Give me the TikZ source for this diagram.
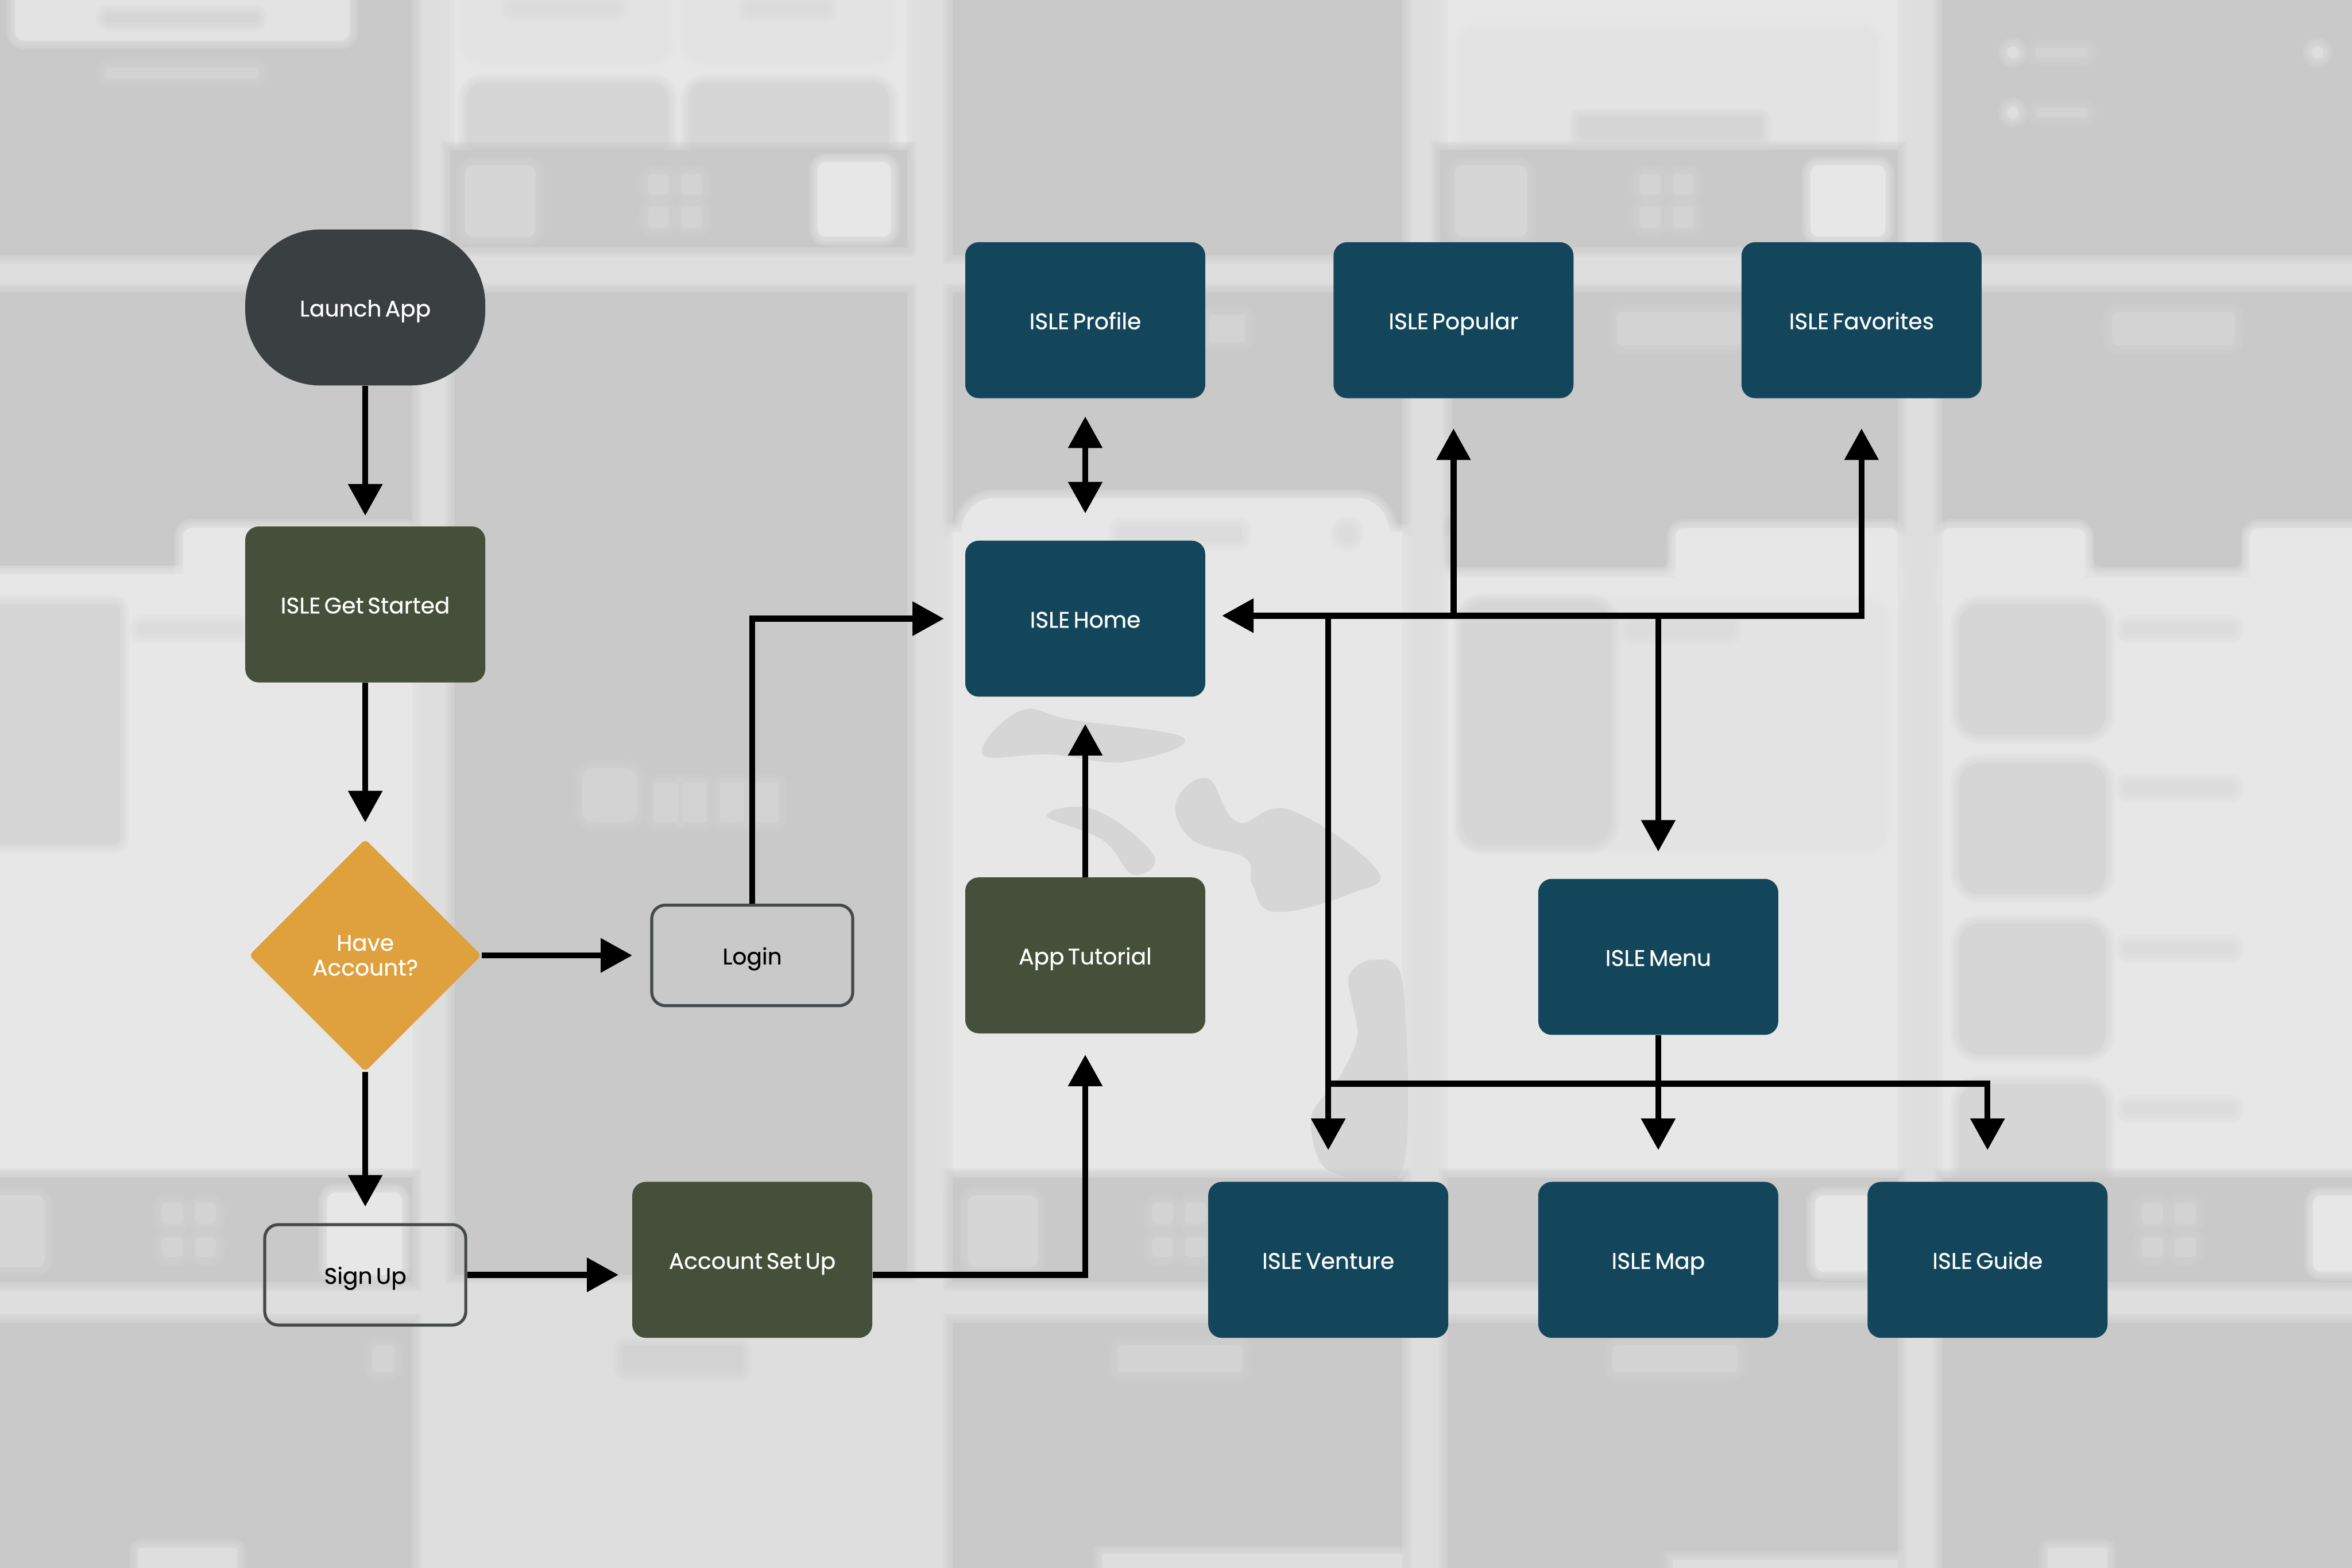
\documentclass[tikz,border=0pt]{standalone}
\usepackage{fontspec}
\setmainfont[FakeBold=0.5, WordSpace=0.6]{Poppins}
\usepackage{tikz}
\usetikzlibrary{arrows.meta, shapes.geometric}

\definecolor{bgbase}{HTML}{DEDEDE}
\definecolor{bgdark}{HTML}{C9C9C9}
\definecolor{bglight}{HTML}{E7E7E7}
\definecolor{bgsoft}{HTML}{E3E3E3}
\definecolor{bgcard}{HTML}{D6D6D6}
\definecolor{ghost}{HTML}{D3D3D3}
\definecolor{smudge}{HTML}{DCDCDC}
\definecolor{startcol}{HTML}{3A3F41}
\definecolor{greencol}{HTML}{454F39}
\definecolor{bluecol}{HTML}{14465B}
\definecolor{ambercol}{HTML}{DFA03E}
\definecolor{edgecol}{HTML}{45494B}

% soft edged backdrop shape: colour, x1, y1, x2, y2, radius
\newcommand{\softbox}[6]{
  \foreach \w in {12,9,6,3}
    \draw[draw=#1, draw opacity=.22, line width=\w pt, rounded corners=#6] (#2,#3) rectangle (#4,#5);
  \fill[#1, rounded corners=#6] (#2,#3) rectangle (#4,#5);
}

\tikzset{
  box/.style={rectangle, rounded corners=9pt, minimum width=160pt, minimum height=104pt, inner sep=0pt, text=white, font=\fontsize{15pt}{16.5pt}\selectfont},
  oneline/.style={text height=14pt, text depth=2pt},
  bluebox/.style={box, oneline, fill=bluecol},
  greenbox/.style={box, oneline, fill=greencol},
  startbox/.style={box, oneline, fill=startcol, rounded corners=50pt},
  choicebox/.style={box, diamond, aspect=1, fill=ambercol, rounded corners=3pt, minimum width=155pt, minimum height=155pt, align=center},
  linebox/.style={box, oneline, draw=edgecol, line width=2pt, minimum width=134pt, minimum height=67pt, text=black},
  flow/.style={->, line width=4pt, black},
  >={Triangle[length=21pt,width=22pt]}
}

\begin{document}
\begin{tikzpicture}[x=1pt, y=-1pt]
    \useasboundingbox (0,0) rectangle (1568,1045.45);
    \fill[bgbase] (0,0) rectangle (1568,1045.45);

    % First screen
    \softbox{bgdark}{-10}{-10}{275}{170}{0}
    \softbox{bgsoft}{10}{-10}{233}{27}{6}
    \softbox{bgcard}{70}{9}{172}{15}{2}
    \softbox{ghost}{70}{45}{172}{52}{2}
    \softbox{bgdark}{-10}{195}{275}{350}{0}
    \softbox{bgdark}{-10}{340}{122}{377}{6}
    \softbox{bglight}{-10}{383}{275}{785}{0}
    \softbox{bglight}{122}{352}{275}{400}{6}
    \softbox{bgcard}{-10}{403}{80}{563}{4}
    \softbox{smudge}{92}{416}{162}{423}{2}
    \softbox{bgdark}{-10}{785}{275}{855}{0}
    \softbox{bgcard}{-10}{797}{30}{845}{6}
    \softbox{bglight}{218}{795}{268}{850}{6}
    \softbox{bgdark}{-10}{882}{275}{1060}{0}
    \softbox{bgbase}{92}{1032}{158}{1060}{2}
    \softbox{ghost}{248}{897}{263}{915}{4}

    % Second screen
    \softbox{bglight}{303}{-10}{605}{100}{0}
    \softbox{bgsoft}{310}{-10}{445}{40}{12}
    \softbox{bgsoft}{458}{-10}{593}{40}{12}
    \softbox{smudge}{340}{2}{412}{9}{2}
    \softbox{smudge}{498}{2}{552}{9}{2}
    \softbox{bgcard}{311}{55}{446}{105}{12}
    \softbox{bgcard}{459}{55}{593}{105}{12}
    \softbox{bgdark}{300}{100}{605}{165}{0}
    \softbox{bgcard}{310}{110}{357}{158}{6}
    \softbox{bglight}{545}{108}{594}{158}{6}
    \softbox{bgdark}{303}{195}{605}{850}{0}
    \softbox{ghost}{388}{512}{425}{548}{8}
    \foreach \lx in {436,455,480,503}{
      \softbox{ghost}{\lx}{522}{\lx+16}{548}{1}
    }
    \softbox{ghost}{415}{897}{495}{915}{3}
    \softbox{bgbase}{405}{1036}{605}{1060}{0}

    % Third screen
    \softbox{bgdark}{635}{-10}{935}{170}{0}
    \softbox{bgdark}{635}{195}{935}{352}{0}
    \softbox{bglight}{641}{332}{926}{400}{22}
    \softbox{bglight}{635}{355}{935}{785}{0}
    \softbox{smudge}{745}{351}{828}{361}{2}
    \softbox{smudge}{893}{350}{903}{362}{5}
    \softbox{ghost}{806}{210}{830}{228}{2}
    % Island blobs
    \fill[bgcard] plot[smooth cycle, tension=.7] coordinates {(655,503) (680,474) (715,480) (789,492) (750,508) (700,503)};
    \fill[bgcard] plot[smooth cycle, tension=.7] coordinates {(698,544) (730,540) (769,570) (755,583) (735,560)};
    \fill[bgcard] plot[smooth cycle, tension=.7] coordinates {(784,535) (805,519) (825,548) (860,540) (918,580) (900,596) (850,608) (835,590) (830,572) (795,560)};
    \fill[bgcard] plot[smooth cycle, tension=.5] coordinates {(899,652) (915,640) (935,655) (935,780) (885,780) (874,745) (893,718) (905,690)};
    \softbox{bgdark}{635}{785}{935}{855}{0}
    \softbox{bgcard}{645}{797}{692}{845}{6}
    \softbox{bgdark}{635}{882}{935}{1060}{0}
    \softbox{ghost}{745}{897}{828}{915}{3}
    \softbox{bgbase}{735}{1036}{935}{1060}{0}

    % Fourth screen
    \softbox{bglight}{965}{-10}{1265}{100}{0}
    \softbox{bgsoft}{975}{20}{1250}{100}{10}
    \softbox{bgcard}{1052}{78}{1175}{92}{2}
    \softbox{bgdark}{960}{100}{1265}{165}{0}
    \softbox{bgcard}{970}{110}{1018}{158}{6}
    \softbox{bglight}{1207}{110}{1257}{158}{6}
    \softbox{bgdark}{968}{195}{1265}{352}{0}
    \softbox{ghost}{1078}{208}{1160}{230}{3}
    \softbox{bgdark}{968}{345}{1113}{378}{6}
    \softbox{bglight}{965}{385}{1265}{785}{0}
    \softbox{bglight}{1117}{352}{1265}{400}{6}
    \softbox{bgsoft}{975}{402}{1256}{565}{12}
    \softbox{bgcard}{975}{402}{1074}{563}{14}
    \softbox{smudge}{1086}{416}{1155}{424}{2}
    \softbox{bgdark}{965}{785}{1265}{855}{0}
    \softbox{bglight}{1210}{797}{1248}{848}{6}
    \softbox{bgdark}{965}{882}{1265}{1060}{0}
    \softbox{ghost}{1075}{897}{1158}{915}{3}
    \softbox{bgbase}{1115}{1040}{1265}{1060}{0}

    % Fifth screen
    \softbox{bgdark}{1295}{-10}{1578}{170}{0}
    \foreach \ly in {35,75}{
      \softbox{bgbase}{1338}{\ly-4}{1346}{\ly+4}{4}
      \softbox{ghost}{1357}{\ly-3}{1392}{\ly+3}{2}
    }
    \softbox{bgbase}{1541}{31}{1549}{39}{4}
    \softbox{bgdark}{1295}{195}{1578}{352}{0}
    \softbox{ghost}{1408}{208}{1490}{230}{3}
    \softbox{bgdark}{1395}{345}{1495}{378}{6}
    \softbox{bglight}{1295}{385}{1578}{785}{0}
    \softbox{bglight}{1295}{352}{1390}{400}{6}
    \softbox{bglight}{1500}{352}{1578}{400}{6}
    \foreach \ly in {403,509,616,723}{
      \softbox{bgcard}{1306}{\ly}{1404}{\ly+87}{14}
      \softbox{smudge}{1416}{\ly+13}{1490}{\ly+20}{2}
    }
    \softbox{bgdark}{1295}{785}{1578}{855}{0}
    \softbox{bglight}{1542}{797}{1578}{848}{6}
    \softbox{bgdark}{1295}{882}{1578}{1060}{0}
    \softbox{bgbase}{1365}{1032}{1405}{1060}{2}

    % Little squares of the tab bars
    \foreach \dx in {108,130,432,454,768,790,1093,1115,1428,1450}{
      \softbox{ghost}{\dx}{802}{\dx+14}{816}{3}
      \softbox{ghost}{\dx}{825}{\dx+14}{838}{3}
    }
    \foreach \dx in {432,454,1093,1115}{
      \softbox{ghost}{\dx}{116}{\dx+14}{130}{3}
      \softbox{ghost}{\dx}{138}{\dx+14}{152}{3}
    }

    % Left column
    \node[startbox]  (launch)  at (243.5,205) {Launch App};
    \node[greenbox]  (started) at (243.5,403) {ISLE Get Started};
    \node[choicebox] (choice)  at (243.5,637) {Have\\Account?};
    \node[linebox]   (signup)  at (243.5,850) {Sign Up};

    % Middle columns
    \node[linebox]   (login)    at (501.5,637)   {Login};
    \node[greenbox]  (account)  at (501.5,840)   {Account Set Up};
    \node[greenbox]  (tutorial) at (723.5,637)   {App Tutorial};
    \node[bluebox]   (home)     at (723.5,412.5) {ISLE Home};
    \node[bluebox]   (profile)  at (723.5,213.5) {ISLE Profile};

    % Right side
    \node[bluebox]   (popular)   at (969,213.5)  {ISLE Popular};
    \node[bluebox]   (favorites) at (1241,213.5) {ISLE Favorites};
    \node[bluebox]   (menu)      at (1105.5,638) {ISLE Menu};
    \node[bluebox]   (venture)   at (885.5,840)  {ISLE Venture};
    \node[bluebox]   (map)       at (1105.5,840) {ISLE Map};
    \node[bluebox]   (guide)     at (1325,840)   {ISLE Guide};

    \coordinate (bus) at (969,410.5);
    \coordinate (branch) at (885.5,722.5);

    % Start of the flow
    \draw[flow, shorten >=7pt]  (launch) -- (started);
    \draw[flow, shorten >=11pt] (started) -- (choice);
    \draw[flow, shorten >=12pt] (choice) -- (login);
    \draw[flow, shorten >=11pt] (choice) -- (signup);
    \draw[flow, shorten >=9pt]  (signup.east) -- (signup.east -| account.west);

    % Into the home screen
    \draw[flow, shorten >=14pt] (signup.east -| account.east) -| (tutorial.south);
    \draw[flow, shorten >=18pt] (tutorial) -- (home);
    \draw[flow, shorten >=14pt] (login.north) |- (home.west);
    \draw[flow, <->, shorten <=18pt, shorten >=12pt] (home.north) -- (profile.south);

    % Out of the home screen
    \draw[flow, line cap=rect, shorten >=11pt] (favorites |- bus) -- (home.east |- bus);
    \draw[flow, shorten >=20pt] (popular |- bus) -- (popular.south);
    \draw[flow, line cap=rect, shorten >=20pt] (favorites |- bus) -- (favorites.south);
    \draw[flow, shorten >=18pt] (menu |- bus) -- (menu.north);
    \draw[flow, shorten >=21pt] (venture |- bus) -- (venture.north);

    % Below the menu
    \draw[flow, shorten >=21pt] (menu.south) -- (map.north);
    \draw[flow, line cap=rect, shorten >=21pt] (branch) -| (guide.north);
\end{tikzpicture}
\end{document}
